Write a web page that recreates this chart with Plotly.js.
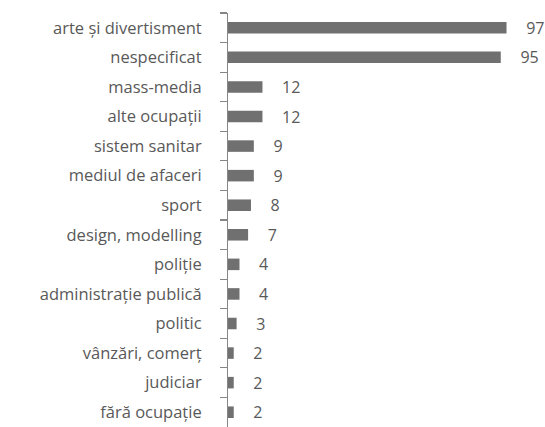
<!DOCTYPE html>
<html><head><meta charset="utf-8">
<script src="https://cdn.plot.ly/plotly-3.0.1.min.js"></script>
<style>html,body{margin:0;padding:0;background:#fff}</style>
</head><body>
<div id="chart" style="width:545px;height:427px"></div>
<script>
var categories = ["arte și divertisment","nespecificat","mass-media","alte ocupații","sistem sanitar","mediul de afaceri","sport","design, modelling","poliție","administrație publică","politic","vânzări, comerț","judiciar","fără ocupație"];
var values = [97,95,12,12,9,9,8,7,4,4,3,2,2,2];
var labels = values.map(function(v){return "    " + v;});

var trace = {
  type: "bar",
  orientation: "h",
  y: categories,
  x: values,
  text: labels,
  textposition: "outside",
  constraintext: "none",
  cliponaxis: false,
  textfont: {family: "Open Sans, sans-serif", size: 16, color: "#595959"},
  marker: {color: "#707070"},
  hoverinfo: "none"
};

var layout = {
  width: 545, height: 427,
  margin: {l: 228, r: 0, t: 13, b: 0},
  paper_bgcolor: "#fff", plot_bgcolor: "#fff",
  bargap: 0.61,
  showlegend: false,
  xaxis: {range: [0, 110.4], visible: false, fixedrange: true},
  yaxis: {
    type: "category",
    autorange: "reversed",
    showline: true, linecolor: "#868686", linewidth: 1,
    ticks: "outside", ticklen: 7, tickcolor: "#868686", tickwidth: 1.2, tickson: "boundaries",
    ticklabelstandoff: 22,
    showgrid: false, zeroline: false,
    tickfont: {family: "Open Sans, sans-serif", size: 16.5, color: "#595959"}
  }
};
Plotly.newPlot("chart", [trace], layout, {displayModeBar: false, staticPlot: true});
</script>
</body></html>
